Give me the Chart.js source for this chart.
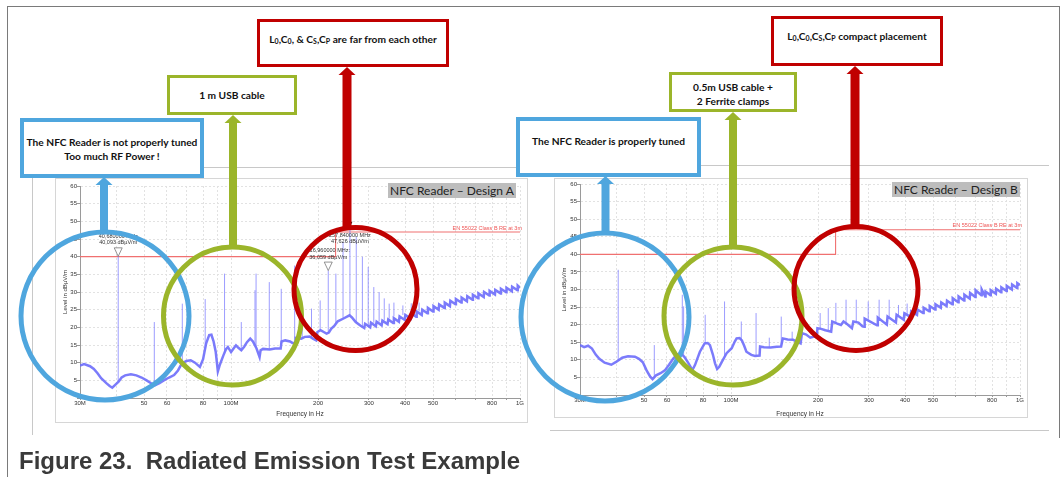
<!DOCTYPE html>
<html>
<head>
<meta charset="utf-8">
<script src="https://cdn.jsdelivr.net/npm/chart.js@4.4.1/dist/chart.umd.min.js"></script>
<style>
  html, body { margin: 0; padding: 0; background: #fff; }
  #page { position: relative; width: 1063px; height: 477px; overflow: hidden; font-family: Lato, "Noto Sans", sans-serif; }
  .line { position: absolute; background: #c8c8c8; }
  .frame { position: absolute; background: #7a7a7a; }
  .panel { position: absolute; background: #fff; box-shadow: inset 0 0 0 1px #d6d6d6; }
  .panel canvas { position: absolute; left: 0; top: 0; }
  .tag { position: absolute; background: #bdbdbd; color: #222; font-size: 12px; line-height: 15px; padding: 0 2px; white-space: nowrap; }
  .box { position: absolute; box-sizing: border-box; background: #fff; color: #111; font-weight: 700; font-size: 10.2px; line-height: 13.5px; text-align: center; white-space: nowrap; }
  .box sub { font-size: 7px; vertical-align: -1px; line-height: 0; }
  #ink { position: absolute; left: 0; top: 0; }
  #caption { position: absolute; left: 19px; top: 447px; font-family: "Liberation Sans", Arial, sans-serif; font-weight: 700; font-size: 24px; color: #3a3a3a; white-space: nowrap; }
</style>
</head>
<body>
<div id="page">
  <!-- outer figure frame -->
  <div class="frame" style="left:7px;top:6px;width:1px;height:471px"></div>
  <div class="frame" style="left:7px;top:6px;width:1053px;height:1px"></div>
  <div class="frame" style="left:1059px;top:6px;width:1px;height:432px"></div>

  <!-- faint screenshot edges -->
  <div class="line" style="left:32px;top:167px;width:498px;height:1px"></div>
  <div class="line" style="left:32px;top:167px;width:1px;height:268px"></div>
  <div class="line" style="left:533px;top:165px;width:516px;height:1px"></div>
  <div class="line" style="left:550px;top:430px;width:499px;height:1px"></div>

  <div class="panel" style="left:55px;top:178px;width:473px;height:245px"><canvas id="chartA" width="473" height="245"></canvas></div>
  <div class="panel" style="left:554px;top:178px;width:474px;height:240px"><canvas id="chartB" width="474" height="240"></canvas></div>

  <div class="tag" style="left:388px;top:183px">NFC Reader – Design A</div>
  <div class="tag" style="left:892px;top:182px">NFC Reader – Design B</div>

  <svg id="ink" width="1063" height="477"></svg>

  <div class="box" style="left:20px;top:118px;width:184px;height:60px;border:4px solid #4fa6de;padding-top:14px">The NFC Reader is not properly tuned<br>Too much RF Power !</div>
  <div class="box" style="left:167px;top:75px;width:130px;height:40px;border:3px solid #9bb52a;padding-top:11px">1 m USB cable</div>
  <div class="box" style="left:257px;top:19px;width:192px;height:48px;border:3px solid #c00000;padding-top:11px">L<sub>0</sub>,C<sub>0</sub>, &amp; C<sub>S</sub>,C<sub>P</sub> are far from each other</div>

  <div class="box" style="left:516px;top:117px;width:185px;height:60px;border:4px solid #4fa6de;padding-top:14px">The NFC Reader is properly tuned</div>
  <div class="box" style="left:669px;top:72px;width:128px;height:40px;border:3px solid #9bb52a;padding-top:6px">0.5m USB cable +<br>2 Ferrite clamps</div>
  <div class="box" style="left:771px;top:16px;width:172px;height:50px;border:3px solid #c00000;padding-top:11px">L<sub>0</sub>,C<sub>0</sub>,C<sub>S</sub>,C<sub>P</sub> compact placement</div>

  <div id="caption">Figure 23.&nbsp; Radiated Emission Test Example</div>
</div>

<script>
// ---- axis ticks ----
const gridMHz = [30, 40, 50, 60, 70, 80, 90, 100, 200, 300, 400, 500, 600, 700, 800, 900, 1000];
const xTickMHz = [30, 50, 60, 80, 100, 200, 300, 400, 500, 800, 1000];
const xTickText = ['30M', '50', '60', '80', '100M', '200', '300', '400', '500', '800', '1G'];
const yTicks = [0, 5, 10, 15, 20, 25, 30, 35, 40, 45, 50, 55, 60];

// ---- EN 55022 class B limit (3 m) ----
const limitMHz = [30, 230, 230, 1000];
const limitDb = [40, 40, 47, 47];
const limitText = 'EN 55022 Class B RE at 3m';

// ---- Design A : noise floor [MHz, dBuV/m] ----
const floorA = [
  [30, 9.2], [31, 9.6], [32.5, 9.0], [33.5, 8.2], [34.5, 7.0], [35.5, 5.6], [37, 4.2], [38, 3.4], [38.8, 2.9],
  [39.8, 3.8], [40.8, 4.6], [41.8, 5.8], [43, 6.4], [45, 6.7], [47, 6.4], [49, 5.8], [51, 5.0], [53, 4.1],
  [54.5, 3.6], [56.5, 4.2], [58.5, 5.0], [61, 5.8], [63.5, 6.5], [65.5, 7.8], [67.5, 9.7], [70, 10.5],
  [72.5, 10.7], [75, 10.0], [78, 8.8], [80, 11.0], [82, 15.5], [84, 17.8], [85.5, 17.9], [87, 16.0],
  [88.5, 13.0], [90, 7.5], [91.5, 9.5], [94, 12.0], [96, 13.8], [97.5, 14.4], [100, 13.0], [102, 14.0],
  [104, 14.9], [106, 14.2], [108.5, 13.5], [111, 14.5], [113.5, 15.8], [116.5, 16.8], [119, 16.0],
  [122.5, 14.0], [125.5, 11.6], [126.5, 13.5], [129, 13.9], [136, 13.7], [142, 14.0], [148.5, 14.0],
  [149.5, 16.0], [154, 16.3], [160, 16.0], [163, 15.6], [166.5, 15.6], [167.5, 17.0], [175, 16.8],
  [180, 17.3], [187, 17.4], [192, 16.8], [197, 16.3], [199, 18.7], [204, 19.2], [210, 18.6], [214, 18.2],
  [218, 18.5], [222, 19.6], [228, 20.5], [234, 21.7], [245, 22.5], [257, 23.4], [262, 22.8], [270, 21.5],
  [280, 20.5], [289, 19.8], [291, 21.0], [303, 20.0], [305, 21.3], [317, 20.3], [319, 21.6], [332, 20.6],
  [334, 21.9], [348, 20.9], [350, 22.2], [364, 21.2], [366, 22.6], [381, 21.6], [383, 23.1], [399, 22.1],
  [401, 23.5], [418, 22.5], [420, 24.0], [437, 23.0], [439, 24.5], [457, 23.5], [459, 25.0], [478, 24.0],
  [480, 25.5], [500, 24.5], [502, 26.0], [523, 25.0], [525, 26.5], [547, 25.5], [549, 27.0], [572, 26.0],
  [574, 27.5], [598, 26.5], [600, 28.0], [626, 27.0], [628, 28.4], [655, 27.4], [657, 28.8], [685, 27.8],
  [687, 29.2], [716, 28.2], [718, 29.6], [749, 28.6], [751, 30.0], [783, 29.0], [785, 30.3], [819, 29.3],
  [821, 30.6], [857, 29.6], [859, 30.9], [896, 29.9], [898, 31.2], [937, 30.2], [939, 31.5], [980, 30.5],
  [982, 31.8], [1000, 31.2]
];
// spikes [MHz, floor, peak]
const spikesA = [
  [40.68, 4.6, 40.09], [54.24, 3.7, 21.5], [67.8, 9.8, 26.7], [81.36, 14.0, 28.0], [94.92, 12.8, 35.2],
  [108.48, 13.5, 21.5], [121, 15.0, 30.5], [122.04, 14.2, 35.2], [135.6, 13.8, 32.8], [149.16, 15.0, 30.9],
  [166, 15.7, 37.5], [176.28, 16.8, 26.2], [189.84, 17.0, 25.3], [203.4, 19.1, 27.6], [216.96, 18.4, 36.06],
  [230.52, 21.0, 35.2], [244.08, 22.5, 44.2], [257.84, 23.4, 47.63], [271.2, 21.5, 45.6], [284.76, 20.2, 40.0],
  [298.32, 20.1, 37.1], [311.88, 21.3, 31.4], [325.44, 21.6, 30.0], [339, 22.0, 28.2], [352.56, 22.5, 26.7],
  [366.12, 23.1, 27.0], [393.24, 23.5, 26.2], [420.36, 24.4, 26.8], [447.48, 24.5, 27.0]
];
// markers [MHz, level]
const markersA = [[40.68, 40.093], [216.96, 36.059], [257.84, 47.626]];
const markerTextA = [
  ['40,680000 MHz', '40,093 dBµV/m'],
  ['216,960000 MHz:', '36,059 dBµV/m'],
  ['257,840000 MHz', '47,626 dBµV/m']
];

// ---- Design B : noise floor ----
const floorB = [
  [30, 14.2], [31, 13.6], [32, 14.0], [33, 13.2], [34, 11.5], [35, 10.3], [36.5, 9.2], [38.5, 8.6], [40, 9.4],
  [42, 10.6], [44, 11.0], [46.5, 10.9], [48, 10.3], [49.5, 9.3], [51, 7.0], [52.5, 5.2], [53.5, 4.5],
  [55, 5.6], [57, 6.2], [59, 7.0], [61, 8.6], [63, 10.3], [65, 11.5], [67, 11.9], [69, 10.8], [71, 9.2],
  [73.5, 7.1], [75, 8.5], [78, 12.3], [81, 14.7], [83, 14.8], [84.5, 14.2], [86.5, 11.5], [88, 9.0],
  [89.5, 7.4], [91, 8.0], [93, 9.5], [96.5, 11.9], [100.5, 13.3], [103, 15.2], [104.5, 16.1], [107, 16.2],
  [109, 15.5], [111, 14.0], [113, 12.3], [117.5, 11.4], [121, 11.1], [125.5, 11.2], [126, 13.8],
  [130, 13.6], [137, 13.5], [144, 13.7], [149, 13.8], [151, 16.1], [157, 15.8], [164, 15.7], [169, 15.2],
  [174, 14.7], [176, 17.6], [182, 17.2], [188, 16.3], [194, 16.6], [198, 16.4], [199, 19.0], [205, 18.8],
  [212, 18.4], [222, 18.0], [224, 20.9], [233, 20.3], [240, 19.9], [245, 20.9], [252, 20.2], [262, 19.0],
  [265, 20.9], [276, 20.6], [285, 19.5], [289, 19.4], [290, 21.7], [320, 19.8], [322, 22.0], [346, 20.0],
  [348, 22.3], [372, 20.6], [374, 22.8], [396, 21.4], [398, 23.2], [418, 22.2], [420, 23.8], [440, 22.8],
  [442, 24.3], [462, 23.3], [464, 24.8], [485, 23.8], [487, 25.3], [508, 24.3], [510, 25.8], [532, 24.8],
  [534, 26.3], [557, 25.3], [559, 26.8], [583, 25.8], [585, 27.5], [611, 26.4], [613, 28.0], [640, 26.9],
  [642, 28.5], [670, 27.4], [672, 29.0], [700, 27.9], [702, 29.8], [735, 28.4], [737, 30.0], [758, 28.0],
  [760, 29.4], [790, 28.4], [792, 29.8], [825, 28.8], [827, 30.2], [860, 29.2], [862, 30.6], [898, 29.6],
  [900, 31.0], [937, 30.0], [939, 31.4], [977, 30.4], [979, 31.8], [1000, 31.3]
];
const spikesB = [
  [40.68, 9.8, 35.6], [54.24, 5.0, 14.2], [67.8, 11.9, 28.5], [68.5, 11.5, 25.2], [81.36, 14.7, 22.8],
  [94.92, 11.0, 26.6], [108.48, 15.6, 20.9], [122.04, 11.1, 23.3], [135.6, 13.5, 16.3], [149.16, 13.8, 22.3],
  [162.72, 15.7, 18.0], [176.28, 17.6, 19.5], [203.4, 18.8, 23.3], [216.96, 18.3, 24.7], [230.52, 20.4, 26.2],
  [250, 20.1, 27.1], [271.2, 20.7, 27.1], [298.32, 21.4, 26.6], [325.44, 21.8, 27.1], [352.56, 22.2, 27.1],
  [379.68, 22.6, 25.6], [406.8, 23.0, 26.0], [433.92, 23.4, 27.4]
];

// ---- overlay marker plugin (triangles + readouts + limit label) ----
function overlayPlugin(markers, texts) {
  return {
    id: 'overlay',
    afterDatasetsDraw(chart) {
      const {ctx, scales: {x, y}, chartArea} = chart;
      ctx.save();
      ctx.font = '5.5px "Liberation Sans", Arial, sans-serif';
      ctx.fillStyle = '#ee5555';
      ctx.textAlign = 'right';
      ctx.textBaseline = 'bottom';
      ctx.fillText(limitText, chartArea.right + 2, y.getPixelForValue(limitDb[3]) - 1);

      markers.forEach((m, i) => {
        const px = x.getPixelForValue(m[0]);
        const py = y.getPixelForValue(m[1]);
        const solid = i === 2;
        ctx.beginPath();
        if (solid) {
          ctx.moveTo(px, py - 3);
          ctx.lineTo(px - 2.5, py - 8);
          ctx.lineTo(px + 2.5, py - 8);
          ctx.closePath();
          ctx.fillStyle = '#111';
          ctx.fill();
        } else {
          ctx.moveTo(px, py);
          ctx.lineTo(px - 4, py - 8.5);
          ctx.lineTo(px + 4, py - 8.5);
          ctx.closePath();
          ctx.fillStyle = 'rgba(255,255,255,0.7)';
          ctx.fill();
          ctx.strokeStyle = '#777';
          ctx.lineWidth = 0.8;
          ctx.stroke();
        }
        if (texts) {
          ctx.fillStyle = '#333';
          ctx.textAlign = 'center';
          ctx.textBaseline = 'middle';
          const t = texts[i];
          if (solid) {
            ctx.fillText(t[0], px, py + 5.5);
            ctx.fillText(t[1], px, py + 11.5);
          } else {
            ctx.fillText(t[0], px, py - 20);
            ctx.fillText(t[1], px, py - 13.5);
          }
        }
      });
      ctx.restore();
    }
  };
}

function makeChart(id, floor, spikes, markers, texts, fit) {
  const spikePts = [];
  spikes.forEach(s => {
    spikePts.push({x: s[0], y: s[1]}, {x: s[0], y: s[2]}, {x: s[0], y: null});
  });
  const font = {family: '"Liberation Sans", Arial, sans-serif', size: 6};

  new Chart(document.getElementById(id), {
    type: 'line',
    data: {
      datasets: [
        { data: spikePts, borderColor: 'rgba(115,115,255,0.7)', borderWidth: 1, pointRadius: 0, spanGaps: false },
        { data: floor.map(p => ({x: p[0], y: p[1]})), borderColor: 'rgba(105,105,250,0.88)', borderWidth: 2.5, pointRadius: 0 },
        { data: limitMHz.map((f, i) => ({x: f, y: limitDb[i]})), borderColor: '#f07070', borderWidth: 1.1, pointRadius: 0 }
      ]
    },
    options: {
      responsive: false,
      animation: false,
      devicePixelRatio: 1,
      layout: { padding: {top: fit.top, right: 8, left: 0, bottom: 0} },
      plugins: { legend: {display: false}, tooltip: {enabled: false} },
      elements: { line: {tension: 0} },
      scales: {
        x: {
          type: 'logarithmic', min: 30, max: 1000,
          afterFit: s => { s.height = fit.xh; },
          afterBuildTicks: s => { s.ticks = gridMHz.map(v => ({value: v})); },
          ticks: {
            autoSkip: false, maxRotation: 0, padding: 0, color: '#333', font,
            callback: v => { const k = xTickMHz.indexOf(v); return k >= 0 ? xTickText[k] : ''; }
          },
          grid: { color: '#e2e2e2', tickColor: '#999', tickLength: 2 },
          border: { color: '#9a9a9a', dash: [2, 2] },
          title: { display: true, text: 'Frequency in Hz', color: '#333', font: {family: font.family, size: 6.5}, padding: {top: 0, bottom: fit.tb} }
        },
        y: {
          min: 0, max: 60,
          afterFit: s => { s.width = fit.yw; },
          afterBuildTicks: s => { s.ticks = yTicks.map(v => ({value: v})); },
          ticks: { padding: 0, color: '#333', font, callback: v => (v === 0 ? '' : v) },
          grid: { color: '#e2e2e2', tickColor: '#999', tickLength: 3 },
          border: { color: '#9a9a9a', dash: [2, 2] },
          title: { display: true, text: 'Level in dBµV/m', color: '#333', font, padding: {top: 7, bottom: 0} }
        }
      }
    },
    plugins: [overlayPlugin(markers, texts)]
  });
}

makeChart('chartA', floorA, spikesA, markersA, markerTextA, {top: 8, xh: 25, yw: 25, tb: 5});
makeChart('chartB', floorB, spikesB, [], null, {top: 6, xh: 23, yw: 26, tb: 0});

// ---- callout circles and arrows ----
const svgNS = 'http://www.w3.org/2000/svg';
const ink = document.getElementById('ink');
const BLUE = '#4fa6de', GREEN = '#9bb52a', RED = '#c00000';

function circle(cx, cy, r, color) {
  const c = document.createElementNS(svgNS, 'circle');
  c.setAttribute('cx', cx); c.setAttribute('cy', cy); c.setAttribute('r', r);
  c.setAttribute('fill', 'none'); c.setAttribute('stroke', color); c.setAttribute('stroke-width', 5);
  ink.appendChild(c);
}
function arrow(cx, tip, base, w, color) {
  const hw = 8.5, hh = 8;
  const pts = [
    [cx, tip], [cx + hw, tip + hh], [cx + w / 2, tip + hh], [cx + w / 2, base],
    [cx - w / 2, base], [cx - w / 2, tip + hh], [cx - hw, tip + hh]
  ];
  const p = document.createElementNS(svgNS, 'polygon');
  p.setAttribute('points', pts.map(q => q.join(',')).join(' '));
  p.setAttribute('fill', color);
  ink.appendChild(p);
}

arrow(104, 177, 234, 8, BLUE);
arrow(233, 115, 248, 8, GREEN);
arrow(347, 67, 230, 9, RED);
arrow(605.5, 176, 234, 8, BLUE);
arrow(733, 112, 248, 8, GREEN);
arrow(855, 66, 228, 9, RED);

circle(105, 316, 84, BLUE);
circle(232.5, 316, 69, GREEN);
circle(355.5, 289, 61.5, RED);
circle(605, 317, 84, BLUE);
circle(733, 316, 69, GREEN);
circle(856, 288.5, 62, RED);
</script>
</body>
</html>
